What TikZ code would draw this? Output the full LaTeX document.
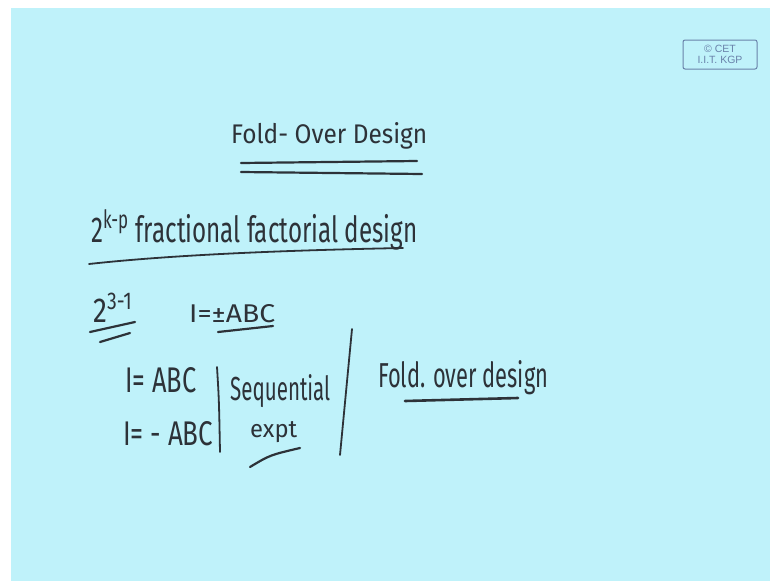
\documentclass[tikz,border=0pt]{standalone}
\usepackage{fontspec}
\setmainfont{Fira Sans}
\newfontfamily\stampfont{Liberation Sans}
\usetikzlibrary{calc}
\definecolor{board}{RGB}{191,242,250}
\definecolor{ink}{RGB}{45,50,56}
\definecolor{stamp}{RGB}{105,130,170}
\tikzset{
  hand/.style={text=ink, inner sep=0pt, anchor=base west},
  stroke/.style={draw=ink, line width=2.2pt, line cap=round},
}
\newcommand{\squeeze}[3]{\resizebox{#1pt}{#2pt}{#3}}

\begin{document}
\begin{tikzpicture}[x=1pt,y=-1pt]
\useasboundingbox (0,0) rectangle (770,581);
\fill[white] (0,0) rectangle (770,581);
\fill[board] (11,8) rectangle (770,581);

\node[draw=stamp, text=stamp, rounded corners=2pt, line width=1pt, minimum width=74pt, minimum height=29pt, align=center, font=\stampfont\fontsize{10.5}{11}\selectfont] (logo) at (720,54.5) {\copyright\ CET\\I.I.T. KGP};

\node[hand] (title) at (231,143) {\squeeze{196}{21}{Fold- Over Design}};
\draw[stroke] (241,163) -- (417,161);
\draw[stroke] (241,172) -- (422,174);

\node[hand] (frac) at (91,242) {\squeeze{326}{32}{2\textsuperscript{k-p} fractional factorial design}};
\draw[stroke, line width=1.8pt] (89,264) .. controls (180,254) and (300,250) .. (403,248);

\node[hand] (pow) at (93,322) {\squeeze{40}{29}{2\textsuperscript{3-1}}};
\draw[stroke] (90,332) -- (135,322);
\draw[stroke] (100,342) -- (130,333);

\node[hand] (defpm) at (189,322) {\squeeze{86}{18}{I=±ABC}};
\draw[stroke] (218,332) -- (273,326);

\node[hand] (defp) at (125,392) {\squeeze{71}{25}{I= ABC}};
\node[hand] (defm) at (123,445) {\squeeze{90}{24}{I= - ABC}};
\draw[stroke, line width=1.8pt] (217,367) .. controls (219,400) .. (220,452);

\node[hand] (seq) at (230,400) {\squeeze{100}{26}{Sequential}};
\node[hand] (expt) at (250,437) {\squeeze{47}{16}{expt}};
\draw[stroke] (250,467) .. controls (270,455) .. (300,448);
\draw[stroke, line width=1.8pt] (352,329) -- (340,455);

\node[hand] (fold) at (378,387) {\squeeze{170}{27}{Fold. over design}};
\draw[stroke, line width=2.6pt] (405,401) -- (518,398);
\end{tikzpicture}
\end{document}
